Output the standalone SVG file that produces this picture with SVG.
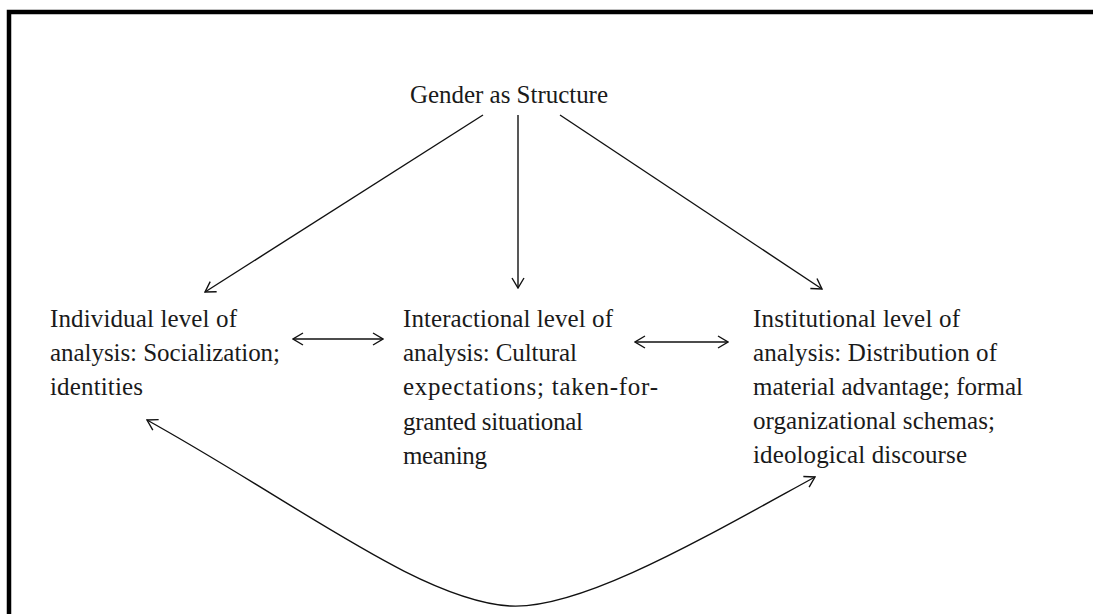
<svg xmlns="http://www.w3.org/2000/svg" width="1093" height="614" viewBox="0 0 1093 614">
<style>
text{font-family:"Liberation Serif","Times New Roman",serif;font-size:25px;fill:#1a1a1a}
.c{fill:none;stroke:#111;stroke-width:1.4}
</style>
<defs>
<marker id="ah" viewBox="0 0 12 14" refX="11" refY="7" markerWidth="12" markerHeight="14" markerUnits="userSpaceOnUse" orient="auto-start-reverse">
<path d="M1,1 L11,7 L1,13" fill="none" stroke="#111" stroke-width="1.4"/>
</marker>
</defs>
<rect x="0" y="0" width="1093" height="614" fill="#fff"/>
<rect x="9" y="12" width="1200" height="700" fill="none" stroke="#000" stroke-width="4.5"/>
<g id="connectors">
<line class="c" x1="483" y1="115" x2="205" y2="292" marker-end="url(#ah)"/>
<line class="c" x1="518" y1="115" x2="518" y2="288" marker-end="url(#ah)"/>
<line class="c" x1="560" y1="115" x2="822" y2="289" marker-end="url(#ah)"/>
<line class="c" x1="293" y1="339" x2="383" y2="339" marker-start="url(#ah)" marker-end="url(#ah)"/>
<line class="c" x1="635" y1="342" x2="728" y2="342" marker-start="url(#ah)" marker-end="url(#ah)"/>
<path class="c" d="M147,420 C300,505 420,600 510,606 C580,610 700,540 815,477" marker-start="url(#ah)" marker-end="url(#ah)"/>
</g>
<g id="gender">
<text x="410" y="103" textLength="198" lengthAdjust="spacing">Gender as Structure</text>
</g>
<g id="individual">
<text x="50" y="327" textLength="187" lengthAdjust="spacing">Individual level of</text>
<text x="50" y="361" textLength="230" lengthAdjust="spacing">analysis: Socialization;</text>
<text x="50" y="395" textLength="93" lengthAdjust="spacing">identities</text>
</g>
<g id="interactional">
<text x="403" y="327" textLength="210" lengthAdjust="spacing">Interactional level of</text>
<text x="403" y="361" textLength="174" lengthAdjust="spacing">analysis: Cultural</text>
<text x="403" y="395" textLength="255" lengthAdjust="spacing">expectations; taken-for-</text>
<text x="403" y="430" textLength="180" lengthAdjust="spacing">granted situational</text>
<text x="403" y="464" textLength="84" lengthAdjust="spacing">meaning</text>
</g>
<g id="institutional">
<text x="753" y="327" textLength="207" lengthAdjust="spacing">Institutional level of</text>
<text x="753" y="361" textLength="244" lengthAdjust="spacing">analysis: Distribution of</text>
<text x="753" y="395" textLength="270" lengthAdjust="spacing">material advantage; formal</text>
<text x="753" y="429" textLength="242" lengthAdjust="spacing">organizational schemas;</text>
<text x="753" y="463" textLength="214" lengthAdjust="spacing">ideological discourse</text>
</g>
</svg>
